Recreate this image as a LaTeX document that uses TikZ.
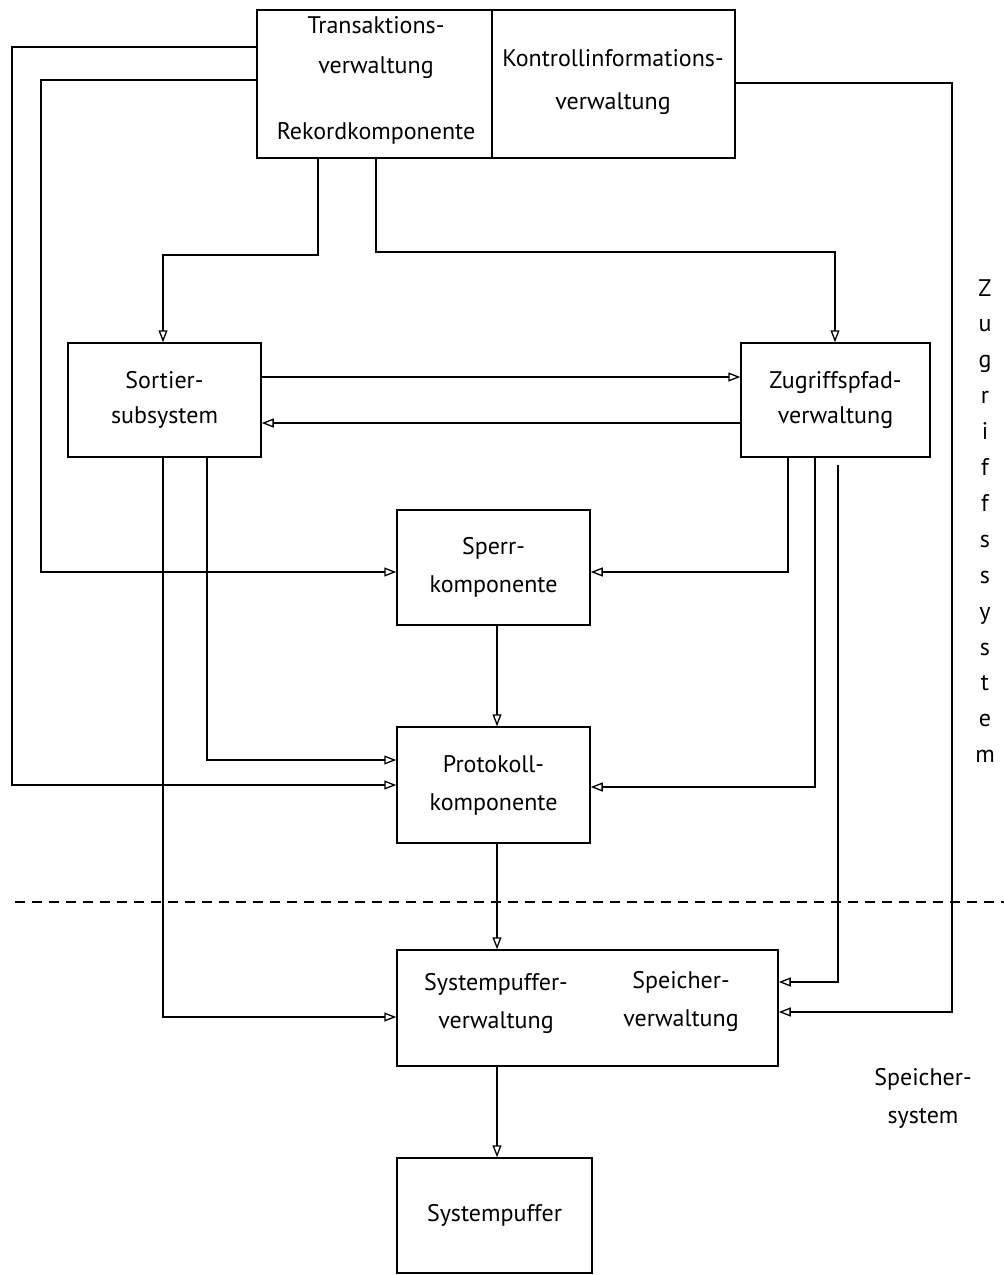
\documentclass[tikz,border=0pt]{standalone}
\usepackage{fontspec}
\setmainfont{PT Sans}
\usetikzlibrary{arrows.meta}
\begin{document}
\begin{tikzpicture}[x=1pt,y=-1pt,
  every node/.style={font=\fontsize{24}{38}\selectfont, inner sep=0pt},
  box/.style={draw, line width=1.5pt, rectangle, minimum width=#1},
  box/.default=193pt,
  conn/.style={line width=1.4pt, -{Triangle[open,length=12pt,width=9pt,line width=1.3pt]}},
  lbl/.style={align=center}
]
\useasboundingbox (0,0) rectangle (1004,1275);
% boxes
\node[box=235pt, minimum height=148pt] (tv) at (374.5,84) {};
\node[box=243pt, minimum height=148pt] (kv) at (613.5,84) {};
\node[box=193pt, minimum height=114pt, lbl, font=\fontsize{24}{35}\selectfont] (sort) at (164.5,400) {Sortier-\\subsystem};
\node[box=189pt, minimum height=114pt, lbl, font=\fontsize{24}{35}\selectfont] (zug) at (835.5,400) {Zugriffspfad-\\verwaltung};
\node[box=193pt, minimum height=115pt, lbl] (sperr) at (493.5,567.5) {Sperr-\\komponente};
\node[box=193pt, minimum height=116pt, lbl] (prot) at (493.5,785) {Protokoll-\\komponente};
\node[box=381pt, minimum height=116pt] (spv) at (587.5,1008) {};
\node[box=195pt, minimum height=115pt] (sp) at (494.5,1215.5) {Systempuffer};
% texts inside composite boxes
\node[lbl, font=\fontsize{24}{40}\selectfont] (tvt) at (376,48) {Transaktions-\\verwaltung};
\node (tvr) at (376,133) {Rekordkomponente};
\node[lbl, font=\fontsize{24}{43}\selectfont] (kvt) at (613,82) {Kontrollinformations-\\verwaltung};
\node[lbl] (spvt1) at (496,1003) {Systempuffer-\\verwaltung};
\node[lbl] (spvt2) at (681,1001) {Speicher-\\verwaltung};
% side labels
\node[lbl, font=\fontsize{24}{35.9}\selectfont] (zs) at (985,521) {Z\\u\\g\\r\\i\\f\\f\\s\\s\\y\\s\\t\\e\\m};
\node[lbl] (ss) at (923,1098) {Speicher-\\system};
% dashed separator
\coordinate (dl) at (15,902);
\coordinate (dr) at (1004,902);
\draw[line width=1.5pt, dash pattern=on 10pt off 7pt] (dl) -- (dr);
% connectors
\draw[conn] (tv.west |- 0,47) -| (12,785) -- (prot.west |- 0,785);
\draw[conn] (tv.west |- 0,80) -| (41,572) -- (sperr.west |- 0,572);
\draw[conn] (tv.south -| 318,0) |- (163,255) -- (sort.north -| 163,0);
\draw[conn] (tv.south -| 376,0) |- (835,252) -- (zug.north -| 835,0);
\draw[conn] (kv.east |- 0,83) -| (952,1012) -- (spv.east |- 0,1012);
\draw[conn] (sort.east |- 0,377) -- (zug.west |- 0,377);
\draw[conn] (zug.west |- 0,423) -- (sort.east |- 0,423);
\draw[conn] (sort.south -| 163,0) |- (spv.west |- 0,1017);
\draw[conn] (sort.south -| 207,0) |- (prot.west |- 0,760);
\draw[conn] (zug.south -| 788,0) |- (sperr.east |- 0,572);
\draw[conn] (zug.south -| 815,0) |- (prot.east |- 0,787);
\draw[conn] (838,465) |- (spv.east |- 0,982);
\draw[conn] (sperr.south -| 497,0) -- (prot.north -| 497,0);
\draw[conn] (prot.south -| 497,0) -- (spv.north -| 497,0);
\draw[conn] (spv.south -| 497,0) -- (sp.north -| 497,0);
\end{tikzpicture}
\end{document}
